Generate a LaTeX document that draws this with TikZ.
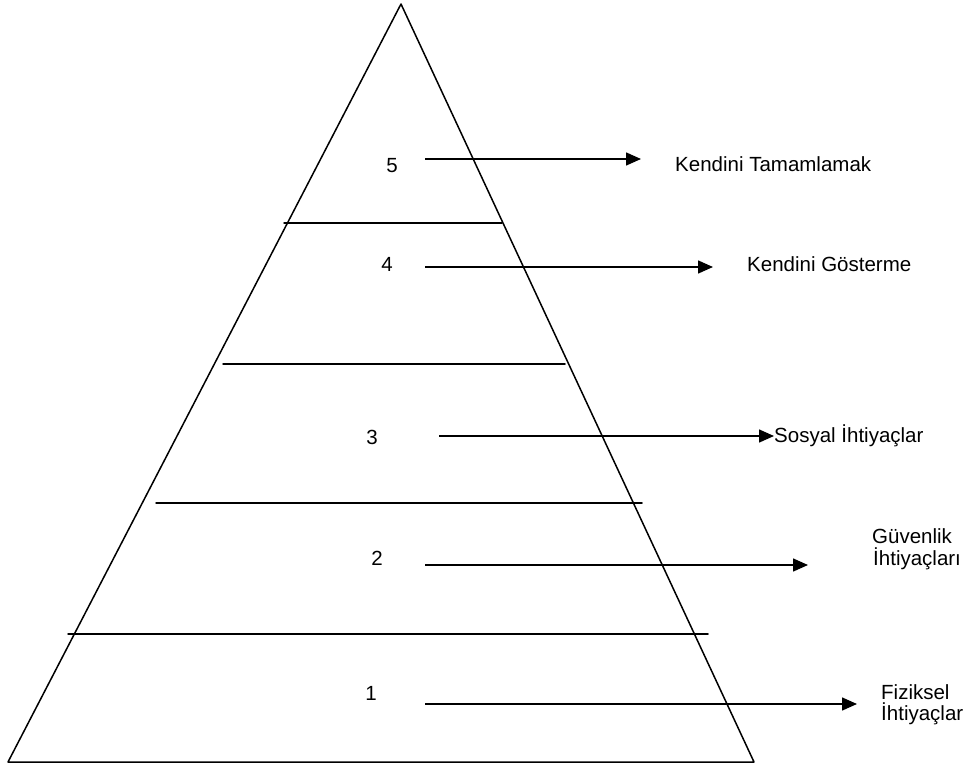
\documentclass[tikz,border=0pt]{standalone}
\usepackage{fontspec}
\setmainfont{Liberation Sans}
\usetikzlibrary{arrows.meta}
\begin{document}
\begin{tikzpicture}[x=1pt,y=-1pt,
  edge/.style={line width=1.5pt,line cap=round,line join=round},
  conn/.style={line width=1.5pt,-{Triangle[length=15pt,width=13pt]}},
  lbl/.style={inner sep=0pt,anchor=base west,font=\fontsize{20.5}{24}\selectfont},
  num/.style={inner sep=0pt,anchor=base,font=\fontsize{20.5}{24}\selectfont}]
\useasboundingbox (0,0) rectangle (971,767);
% pyramid
\coordinate (apex) at (401,4);
\coordinate (bl) at (8,762);
\coordinate (br) at (754,762);
\draw[edge] (apex) -- (bl) -- (br) -- cycle;
% level separators
\coordinate (s4l) at (284,223); \coordinate (s4r) at (502,223);
\coordinate (s3l) at (223,364); \coordinate (s3r) at (565,364);
\coordinate (s2l) at (156,503); \coordinate (s2r) at (642,503);
\coordinate (s1l) at (68,634);  \coordinate (s1r) at (708,634);
\draw[edge] (s4l) -- (s4r);
\draw[edge] (s3l) -- (s3r);
\draw[edge] (s2l) -- (s2r);
\draw[edge] (s1l) -- (s1r);
% numbers
\node[num] (n5) at (392,173) {5};
\node[num] (n4) at (387,272) {4};
\node[num] (n3) at (372,444) {3};
\node[num] (n2) at (377,565) {2};
\node[num] (n1) at (371,700) {1};
% arrows
\coordinate (a5s) at (425,159); \coordinate (a5e) at (641,159);
\coordinate (a4s) at (425,267); \coordinate (a4e) at (713,267);
\coordinate (a3s) at (439,436); \coordinate (a3e) at (774,436);
\coordinate (a2s) at (425,565); \coordinate (a2e) at (808,565);
\coordinate (a1s) at (425,704); \coordinate (a1e) at (857,704);
\draw[conn] (a5s) -- (a5e);
\draw[conn] (a4s) -- (a4e);
\draw[conn] (a3s) -- (a3e);
\draw[conn] (a2s) -- (a2e);
\draw[conn] (a1s) -- (a1e);
% labels
\node[lbl] (t5) at (675,172) {Kendini Tamamlamak};
\node[lbl] (t4) at (747,272) {Kendini Gösterme};
\node[lbl] (t3) at (774,442) {Sosyal İhtiyaçlar};
\node[lbl] (t2a) at (872,543) {Güvenlik};
\node[lbl] (t2b) at (873,565) {İhtiyaçları};
\node[lbl] (t1a) at (881,699) {Fiziksel};
\node[lbl] (t1b) at (881,720) {İhtiyaçlar};
\end{tikzpicture}
\end{document}
